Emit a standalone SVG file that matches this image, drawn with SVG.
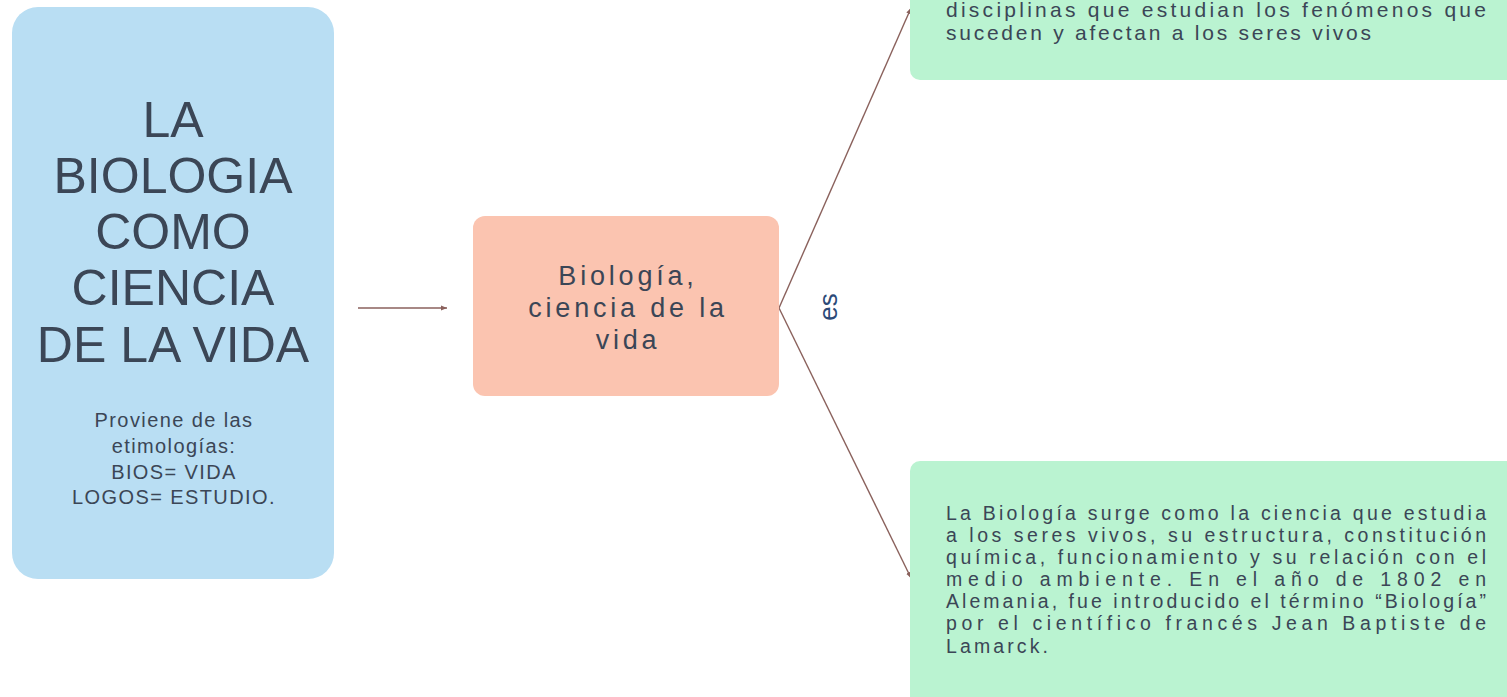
<svg xmlns="http://www.w3.org/2000/svg" width="1507" height="697" viewBox="0 0 1507 697">
<defs>
<style>
.t{font-family:"Liberation Sans","DejaVu Sans",sans-serif;fill:#3b4656}
.title{font-size:50px;text-anchor:middle}
.sub{font-size:20px;text-anchor:middle;letter-spacing:1.4px}
.mid{font-size:27px;text-anchor:middle;letter-spacing:3.8px}
.body{font-size:19.5px}
.top{font-size:21px}
.con{stroke:#8a615c;stroke-width:1.4;fill:none}
</style>
<marker id="ah" markerWidth="8" markerHeight="8" refX="6" refY="4" orient="auto" markerUnits="userSpaceOnUse">
<path d="M0,1.5 L6,4 L0,6.5 Z" fill="#8a615c"/>
</marker>
</defs>
<rect width="1507" height="697" fill="#ffffff"/>
<g id="connectors">
<line class="con" x1="358" y1="308" x2="447" y2="308" marker-end="url(#ah)"/>
<line class="con" x1="779" y1="308" x2="911" y2="8" marker-end="url(#ah)"/>
<line class="con" x1="779" y1="308" x2="911" y2="578" marker-end="url(#ah)"/>
<text x="830" y="307" transform="rotate(-90 830 307)" text-anchor="middle" dominant-baseline="middle" font-family="Liberation Sans, sans-serif" font-size="26" fill="#2c4a78">es</text>
</g>
<g id="node-title">
<rect x="12" y="7" width="322" height="572" rx="26" fill="#b9def3"/>
<text class="t title" x="173" y="137">LA</text>
<text class="t title" x="173" y="193">BIOLOGIA</text>
<text class="t title" x="173" y="249">COMO</text>
<text class="t title" x="173" y="305">CIENCIA</text>
<text class="t title" x="173" y="362">DE LA VIDA</text>
<text class="t sub" x="174" y="427">Proviene de las</text>
<text class="t sub" x="174" y="453">etimologías:</text>
<text class="t sub" x="174" y="479">BIOS= VIDA</text>
<text class="t sub" x="174" y="504">LOGOS= ESTUDIO.</text>
</g>
<g id="node-center">
<rect x="473" y="216" width="306" height="180" rx="12" fill="#fbc4b0"/>
<text class="t mid" x="628" y="285">Biología,</text>
<text class="t mid" x="628" y="317">ciencia de la</text>
<text class="t mid" x="628" y="349">vida</text>
</g>
<g id="node-top">
<rect x="910" y="-40" width="620" height="120" rx="10" fill="#baf3d1"/>
<text class="t top" x="946" y="17" textLength="540" lengthAdjust="spacing">disciplinas que estudian los fenómenos que</text>
<text class="t top" x="946" y="40" textLength="425" lengthAdjust="spacing">suceden y afectan a los seres vivos</text>
</g>
<g id="node-bottom">
<rect x="910" y="461" width="620" height="260" rx="10" fill="#baf3d1"/>
<text class="t body" x="946" y="520" textLength="540" lengthAdjust="spacing">La Biología surge como la ciencia que estudia</text>
<text class="t body" x="946" y="542" textLength="540" lengthAdjust="spacing">a los seres vivos, su estructura, constitución</text>
<text class="t body" x="946" y="564" textLength="540" lengthAdjust="spacing">química, funcionamiento y su relación con el</text>
<text class="t body" x="946" y="586" textLength="540" lengthAdjust="spacing">medio ambiente. En el año de 1802 en</text>
<text class="t body" x="946" y="608" textLength="540" lengthAdjust="spacing">Alemania, fue introducido el término “Biología”</text>
<text class="t body" x="946" y="630" textLength="540" lengthAdjust="spacing">por el científico francés Jean Baptiste de</text>
<text class="t body" x="946" y="653" textLength="102" lengthAdjust="spacing">Lamarck.</text>
</g>
</svg>
